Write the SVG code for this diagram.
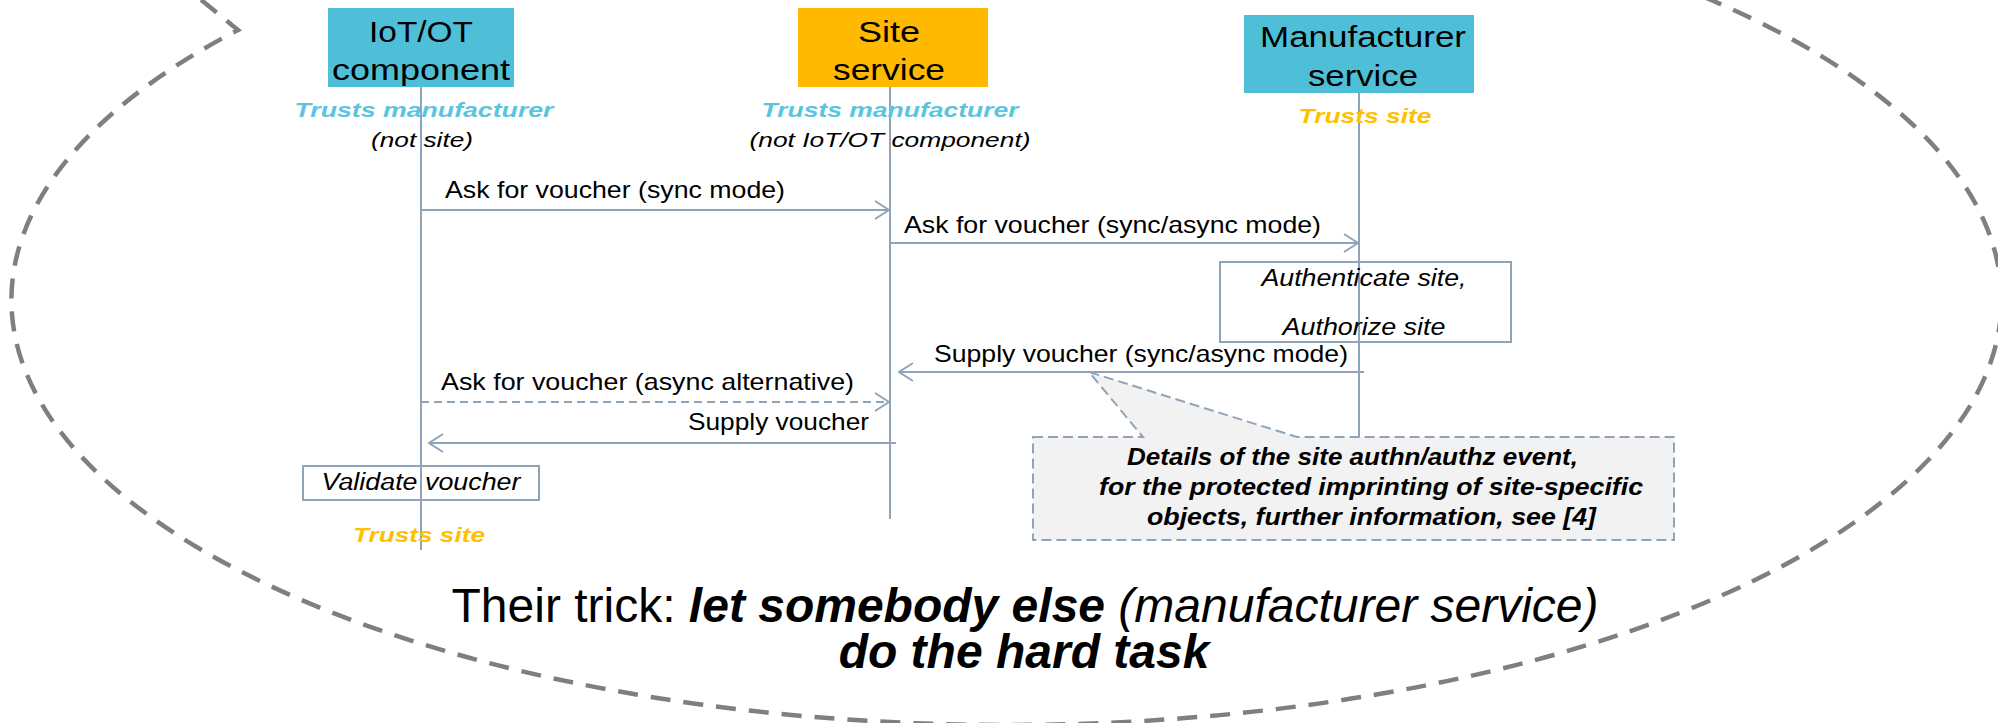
<svg xmlns="http://www.w3.org/2000/svg" width="1998" height="723" viewBox="0 0 1998 723">
<defs>
<style>
.t{font-family:"Liberation Sans",Arial,sans-serif;}
.head{font-size:29px;fill:#000;text-anchor:middle;}
.trust{font-size:21px;font-weight:bold;font-style:italic;text-anchor:middle;}
.sub{font-size:21px;font-style:italic;fill:#000;text-anchor:middle;}
.msg{font-size:24px;fill:#000;}
.act{font-size:23px;font-style:italic;fill:#000;text-anchor:middle;}
.note{font-size:23px;font-weight:bold;font-style:italic;fill:#000;}
.life{stroke:#8FA4B8;stroke-width:2;fill:none;}
.arrow{stroke:#8FA4B8;stroke-width:2;fill:none;marker-end:url(#open);}
.big{font-size:48px;fill:#000;text-anchor:middle;}
</style>
<marker id="open" markerUnits="userSpaceOnUse" markerWidth="16" markerHeight="20" viewBox="0 0 16 20" refX="15" refY="10" orient="auto">
<path d="M1,1 L15,10 L1,19" fill="none" stroke="#8FA4B8" stroke-width="2"/>
</marker>
</defs>
<rect width="1998" height="723" fill="#fff"/>

<g id="callout-ellipse">
<path d="M150,-42 L238,30 A995 425 0 1 0 1010,-125" fill="none" stroke="#7F7F7F" stroke-width="4.5" stroke-dasharray="20 13"/>
</g>

<g id="iot">
<rect x="328" y="8" width="186" height="79" fill="#4FBFD8"/>
<line class="life" x1="421" y1="87" x2="421" y2="550"/>
<text class="t head" x="421" y="42" textLength="104" lengthAdjust="spacingAndGlyphs">IoT/OT</text>
<text class="t head" x="421" y="80" textLength="178" lengthAdjust="spacingAndGlyphs">component</text>
<text class="t trust" x="424" y="117" fill="#5BC4DE" textLength="259" lengthAdjust="spacingAndGlyphs">Trusts manufacturer</text>
<text class="t sub" x="422" y="147" textLength="102" lengthAdjust="spacingAndGlyphs">(not site)</text>
</g>

<g id="site">
<rect x="798" y="8" width="190" height="79" fill="#FFB900"/>
<line class="life" x1="890" y1="87" x2="890" y2="519"/>
<text class="t head" x="889" y="42" textLength="62" lengthAdjust="spacingAndGlyphs">Site</text>
<text class="t head" x="889" y="80" textLength="112" lengthAdjust="spacingAndGlyphs">service</text>
<text class="t trust" x="890" y="117" fill="#5BC4DE" textLength="257" lengthAdjust="spacingAndGlyphs">Trusts manufacturer</text>
<text class="t sub" x="890" y="147" textLength="281" lengthAdjust="spacingAndGlyphs">(not IoT/OT component)</text>
</g>

<g id="manufacturer">
<rect x="1244" y="15" width="230" height="78" fill="#4FBFD8"/>
<line class="life" x1="1359" y1="93" x2="1359" y2="512"/>
<text class="t head" x="1363" y="47" textLength="206" lengthAdjust="spacingAndGlyphs">Manufacturer</text>
<text class="t head" x="1363" y="86" textLength="110" lengthAdjust="spacingAndGlyphs">service</text>
<text class="t trust" x="1365" y="123" fill="#FFC000" textLength="133" lengthAdjust="spacingAndGlyphs">Trusts site</text>
</g>

<g id="authenticate">
<rect x="1220" y="262" width="291" height="80" fill="none" stroke="#8FA4B8" stroke-width="2"/>
<text class="t act" x="1364" y="286" textLength="205" lengthAdjust="spacingAndGlyphs">Authenticate site,</text>
<text class="t act" x="1364" y="335" textLength="163" lengthAdjust="spacingAndGlyphs">Authorize site</text>
</g>

<g id="validate">
<rect x="303" y="466" width="236" height="34" fill="none" stroke="#8FA4B8" stroke-width="2"/>
<text class="t act" x="421" y="490" textLength="199" lengthAdjust="spacingAndGlyphs">Validate voucher</text>
<text class="t trust" x="419" y="542" fill="#FFC000" textLength="132" lengthAdjust="spacingAndGlyphs">Trusts site</text>
</g>

<g id="note">
<path d="M1033,437 L1143,437 L1089,372 L1297,437 L1674,437 L1674,540 L1033,540 Z" fill="#F2F2F2" stroke="#8FA4B8" stroke-width="2" stroke-dasharray="10 5"/>
<text class="t note" x="1127" y="465" textLength="451" lengthAdjust="spacingAndGlyphs">Details of the site authn/authz event,</text>
<text class="t note" x="1099" y="495" textLength="544" lengthAdjust="spacingAndGlyphs">for the protected imprinting of site-specific</text>
<text class="t note" x="1147" y="525" textLength="449" lengthAdjust="spacingAndGlyphs">objects, further information, see [4]</text>
</g>

<g id="connectors">
<line class="arrow" x1="421" y1="210" x2="889" y2="210"/>
<text class="t msg" x="445" y="198" textLength="340" lengthAdjust="spacingAndGlyphs">Ask for voucher (sync mode)</text>
<line class="arrow" x1="890" y1="243" x2="1358" y2="243"/>
<text class="t msg" x="904" y="233" textLength="417" lengthAdjust="spacingAndGlyphs">Ask for voucher (sync/async mode)</text>
<line class="arrow" x1="1364" y1="372" x2="899" y2="372"/>
<text class="t msg" x="934" y="362" textLength="414" lengthAdjust="spacingAndGlyphs">Supply voucher (sync/async mode)</text>
<line class="arrow" x1="421" y1="402" x2="889" y2="402" stroke-dasharray="8 5"/>
<text class="t msg" x="441" y="390" fill="#A0A0A0" textLength="413" lengthAdjust="spacingAndGlyphs">Ask for voucher (async alternative)</text>
<line class="arrow" x1="896" y1="443" x2="429" y2="443"/>
<text class="t msg" x="688" y="430" textLength="181" lengthAdjust="spacingAndGlyphs">Supply voucher</text>
</g>

<g id="caption">
<text class="t big" x="1025" y="622">Their trick: <tspan font-weight="bold" font-style="italic">let somebody else</tspan><tspan font-style="italic"> (manufacturer service)</tspan></text>
<text class="t big" x="1024" y="668" font-weight="bold" font-style="italic">do the hard task</text>
</g>
</svg>
